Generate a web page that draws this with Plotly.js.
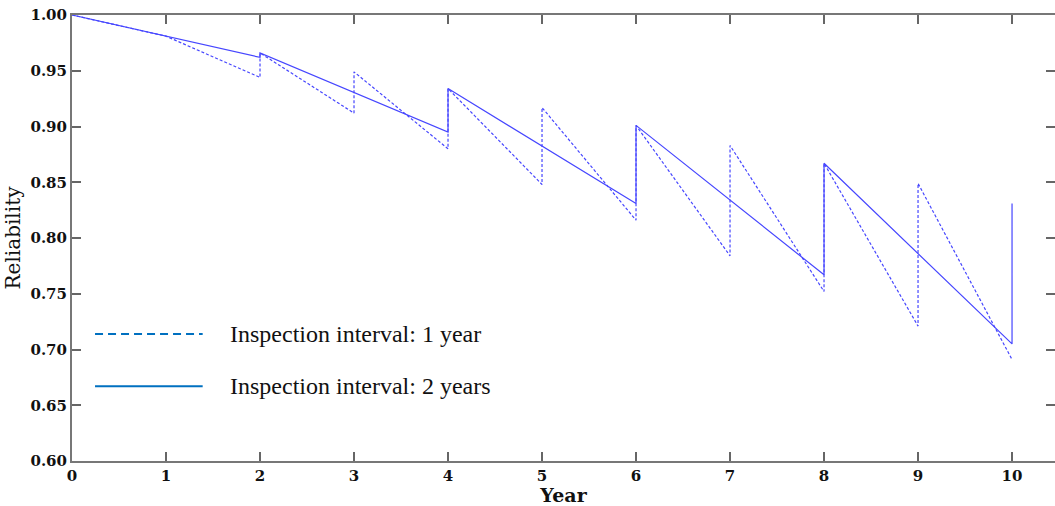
<!DOCTYPE html>
<html>
<head>
<meta charset="utf-8">
<script src="https://cdn.plot.ly/plotly-3.0.1.min.js"></script>
<style>html,body{margin:0;padding:0;background:#fff;}#chart{width:1055px;height:506px;}</style>
</head>
<body>
<div id="chart"></div>
<script>
// Inspection interval: 1 year (dashed) — values at each year, before and after inspection jump
const yearsInterval1 = [0, 1, 1, 2, 2, 3, 3, 4, 4, 5, 5, 6, 6, 7, 7, 8, 8, 9, 9, 10];
const reliabilityInterval1 = [1.000, 0.981, 0.981, 0.944, 0.966, 0.912, 0.949, 0.880, 0.934, 0.848, 0.917, 0.816, 0.901, 0.784, 0.883, 0.752, 0.867, 0.721, 0.849, 0.691];
// Inspection interval: 2 years (solid)
const yearsInterval2 = [0, 2, 2, 4, 4, 6, 6, 8, 8, 10, 10];
const reliabilityInterval2 = [1.000, 0.962, 0.966, 0.895, 0.934, 0.831, 0.901, 0.767, 0.867, 0.705, 0.831];

const seriesNames = ["Inspection interval: 1 year", "Inspection interval: 2 years"];
const xTicks = [0, 1, 2, 3, 4, 5, 6, 7, 8, 9, 10];
const yTicks = [0.60, 0.65, 0.70, 0.75, 0.80, 0.85, 0.90, 0.95, 1.00];
const yTickLabels = ["0.60", "0.65", "0.70", "0.75", "0.80", "0.85", "0.90", "0.95", "1.00"];

const lineColor = "rgb(70,70,255)";
const legendColor = "#0070C0";

const traces = [
  {x: yearsInterval1, y: reliabilityInterval1, mode: "lines", name: seriesNames[0],
   line: {color: lineColor, width: 1.2, dash: "3px,2px"}, showlegend: false},
  {x: yearsInterval2, y: reliabilityInterval2, mode: "lines", name: seriesNames[1],
   line: {color: lineColor, width: 1.2}, showlegend: false}
];

const tickFont = {family: "DejaVu Serif", size: 15, color: "#111", weight: "bold"};
const axisCommon = {
  showline: true, linewidth: 2, linecolor: "#777", mirror: "ticks",
  ticks: "inside", ticklen: 9, tickwidth: 2, tickcolor: "#666",
  showgrid: false, zeroline: false, tickfont: tickFont
};

const layout = {
  width: 1055, height: 506,
  margin: {l: 72, r: 0, t: 15, b: 45, pad: 0},
  paper_bgcolor: "#fff", plot_bgcolor: "#fff",
  xaxis: Object.assign({}, axisCommon, {
    range: [0, 10.457], tickvals: xTicks, ticktext: xTicks.map(String),
    title: {text: "Year", font: {family: "DejaVu Serif", size: 19, color: "#111", weight: "bold"}, standoff: 2}
  }),
  yaxis: Object.assign({}, axisCommon, {
    range: [0.6, 1.0], tickvals: yTicks, ticktext: yTickLabels,
    title: {text: "Reliability", font: {family: "DejaVu Serif", size: 20, color: "#111"}, standoff: 4}
  }),
  shapes: [
    {type: "line", xref: "x", yref: "y", x0: 0.245, x1: 1.39, y0: 0.714, y1: 0.714,
     line: {color: legendColor, width: 2, dash: "8px,5px"}},
    {type: "line", xref: "x", yref: "y", x0: 0.245, x1: 1.39, y0: 0.667, y1: 0.667,
     line: {color: legendColor, width: 2}}
  ],
  annotations: [
    {xref: "x", yref: "y", x: 1.66, y: 0.714, xanchor: "left", yanchor: "middle", showarrow: false,
     text: seriesNames[0], font: {family: "Liberation Serif", size: 24, color: "#111"}},
    {xref: "x", yref: "y", x: 1.66, y: 0.667, xanchor: "left", yanchor: "middle", showarrow: false,
     text: seriesNames[1], font: {family: "Liberation Serif", size: 24, color: "#111"}}
  ]
};

Plotly.newPlot("chart", traces, layout, {displayModeBar: false, staticPlot: true});
</script>
</body>
</html>
